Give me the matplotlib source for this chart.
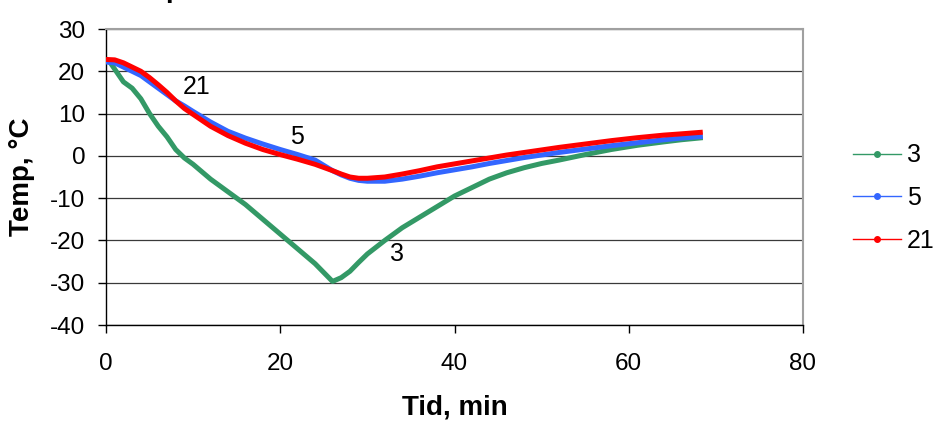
import matplotlib
matplotlib.use("Agg")
from matplotlib import pyplot as plt
from matplotlib.lines import Line2D

plt.rcParams['font.family'] = ['Liberation Sans', 'DejaVu Sans']
plt.rcParams['axes.unicode_minus'] = False

# time axis (minutes)
tid = [0, 1, 2, 3, 4, 5, 6, 7, 8, 9, 10, 12, 14, 16, 18, 20, 22, 24, 26, 27,
       28, 29, 30, 32, 34, 36, 38, 40, 42, 44, 46, 48, 50, 52, 55, 58, 61, 64,
       66, 68.5]
tid_3 = [0.5] + tid[1:]

# temperature series (deg C)
temp_3 = [22, 20.5, 17.5, 16, 13.5, 10, 7, 4.5, 1.5, -0.5, -2, -5.5, -8.5,
          -11.5, -15, -18.5, -22, -25.5, -29.7, -28.8, -27.3, -25.2, -23.2,
          -20, -17, -14.5, -12, -9.5, -7.5, -5.5, -4, -2.8, -1.8, -1, 0.3,
          1.5, 2.5, 3.3, 3.8, 4.3]
temp_5 = [22.2, 22, 21, 20, 19, 17.5, 16, 14.5, 13, 11.8, 10.5, 8, 5.8, 4.2,
          2.8, 1.5, 0.3, -1, -3.5, -4.5, -5.3, -5.8, -6, -6, -5.5, -4.8, -4,
          -3.3, -2.6, -1.8, -1.1, -0.4, 0.2, 0.8, 1.6, 2.4, 3.1, 3.8, 4.2, 4.6]
temp_21 = [22.8, 22.7, 22, 21, 20, 18.5, 16.8, 15, 13, 11.2, 9.8, 7, 4.8, 3,
           1.5, 0.3, -0.8, -2, -3.5, -4.3, -5, -5.3, -5.3, -5, -4.3, -3.5,
           -2.6, -1.9, -1.2, -0.5, 0.2, 0.8, 1.4, 2, 2.8, 3.6, 4.3, 4.9, 5.2,
           5.6]

names = ['3', '5', '21']
colors = ['#339966', '#3366FF', '#FF0000']
label_pos = [(33.4, -23.2), (21.9, 4.5), (10.4, 16.3)]

fig = plt.figure(figsize=(9.34, 4.22), dpi=100)
ax = fig.add_axes([106/934, 1-325/422, (803-106)/934, (325-29)/422])

series = [(tid_3, temp_3), (tid, temp_5), (tid, temp_21)]
for (x, y), c in zip(series, colors):
    ax.plot(x, y, color=c, lw=3.6, solid_capstyle='butt', zorder=3)

for name, (lx, ly) in zip(names, label_pos):
    ax.text(lx, ly, name, fontsize=18, ha='center', va='center', zorder=4)

ax.set_xlim(0, 80)
ax.set_ylim(-40, 30)
ax.set_xticks(range(0, 81, 20))
ax.set_yticks(range(-40, 31, 10))
ax.yaxis.grid(True, color='#3a3a3a', lw=0.9)
ax.set_axisbelow(True)
ax.tick_params(direction='out', length=6, width=1, labelsize=17.5)
ax.tick_params(axis='x', pad=14)
ax.tick_params(axis='y', pad=9)
for s in ['top', 'right']:
    ax.spines[s].set_color('#a0a0a0')
    ax.spines[s].set_linewidth(1.5)
for s in ['left', 'bottom']:
    ax.spines[s].set_color('black')
    ax.spines[s].set_linewidth(1.0)

ax.set_xlabel('Tid, min', fontsize=20, fontweight='bold', va='center')
ax.set_ylabel('Temp, °C', fontsize=20, fontweight='bold', va='center')
ax.xaxis.set_label_coords(0.5, -0.28)
ax.yaxis.set_label_coords(-0.12, 0.5)

fig.text(112/934, 1+3/422, 'Temperatur', fontsize=20, fontweight='bold',
         ha='left', va='baseline')

handles = [Line2D([], [], color=c, lw=1, marker='o', markersize=4)
           for c in colors]
fig.legend(handles, names, loc='center left', frameon=False, fontsize=18,
           bbox_to_anchor=(853/934, 1-198/422), borderaxespad=0, borderpad=0,
           handlelength=1.9, handletextpad=0.25, labelspacing=0.75)

fig.savefig('out.png', dpi=100)
